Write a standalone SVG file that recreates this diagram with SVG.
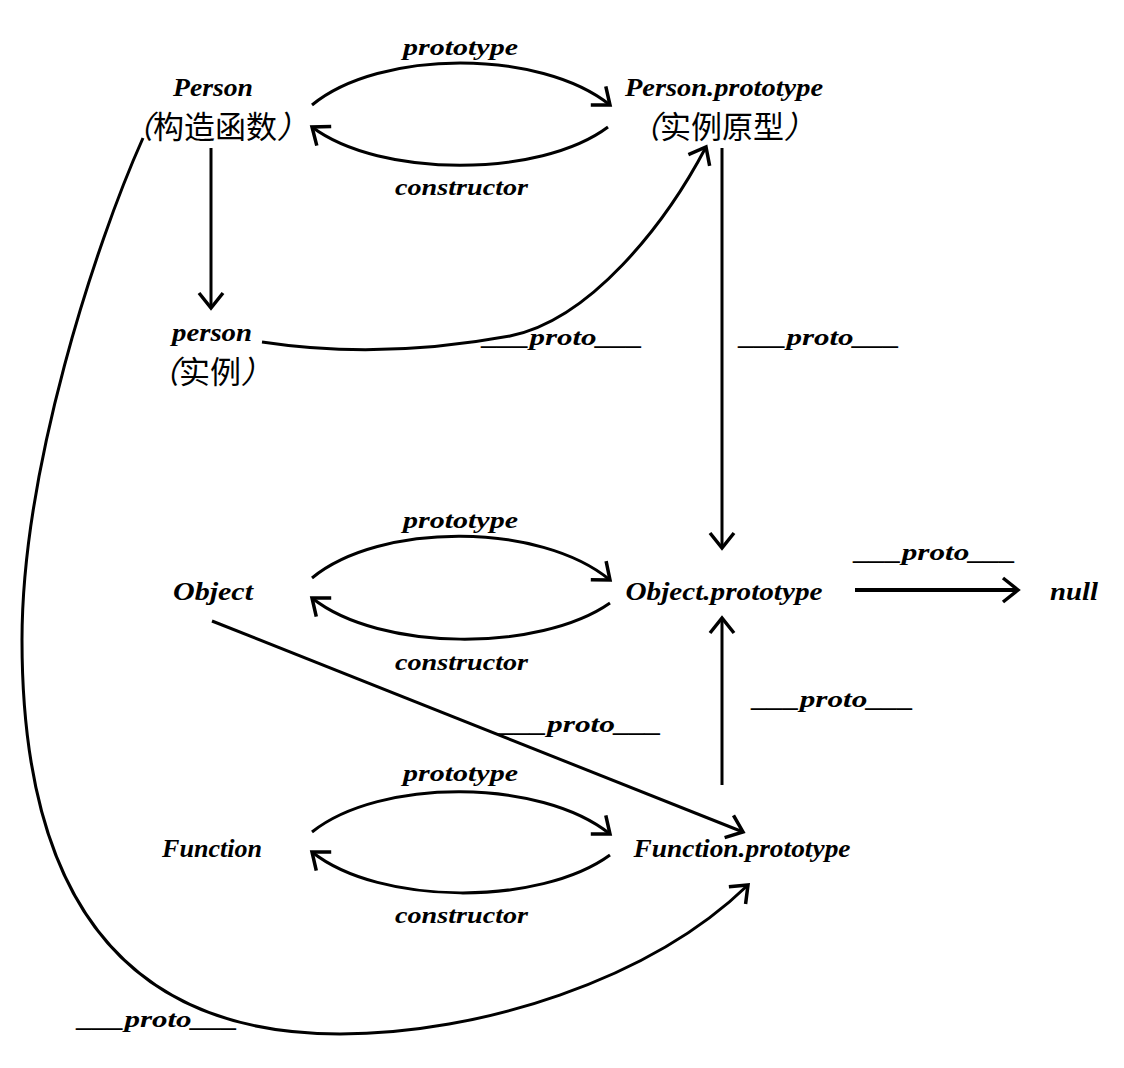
<svg xmlns="http://www.w3.org/2000/svg" width="1124" height="1068" viewBox="0 0 1124 1068">
<style>
.t{font-family:"Liberation Serif","DejaVu Serif",serif;font-style:italic;font-weight:bold;font-size:26px;fill:#000;text-anchor:middle}
.l{font-family:"Liberation Serif","DejaVu Serif",serif;font-style:italic;font-weight:bold;font-size:24px;fill:#000}
.c{font-family:"Noto Sans CJK SC",sans-serif;font-size:31px;fill:#000;text-anchor:middle}
.p{font-style:italic}
.e{fill:none;stroke:#000;stroke-width:3}
</style>
<defs>
<marker id="ah" markerUnits="userSpaceOnUse" markerWidth="40" markerHeight="40" viewBox="-20 -20 40 40" refX="0" refY="0" orient="auto">
<path d="M-15,-12 L0,0 L-15,12" fill="none" stroke="#000" stroke-width="3.5" stroke-linejoin="miter"/>
</marker>
</defs>
<rect width="1124" height="1068" fill="#fff"/>
<g id="connectors">
<path class="e" d="M312,105 C380,49 540,49 610,105" marker-end="url(#ah)"/>
<path class="e" d="M608,127 C540,178 380,178 312,127" marker-end="url(#ah)"/>
<path class="e" d="M211,148 L211,308" marker-end="url(#ah)"/>
<path class="e" d="M262,342 Q380,360 510,336 C590,320 665,225 706,147" marker-end="url(#ah)"/>
<path class="e" d="M722,148 L722,548" marker-end="url(#ah)"/>
<path class="e" d="M312,578 C380,522 540,522 610,580" marker-end="url(#ah)"/>
<path class="e" d="M610,603 C540,652 380,652 312,598" marker-end="url(#ah)"/>
<path class="e" style="stroke-width:4" d="M855,590 L1018,590" marker-end="url(#ah)"/>
<path class="e" d="M212,621 L743,832" marker-end="url(#ah)"/>
<path class="e" d="M722,785 L722,618" marker-end="url(#ah)"/>
<path class="e" d="M312,832 C380,778 540,778 610,834" marker-end="url(#ah)"/>
<path class="e" d="M610,855 C540,906 380,906 312,852" marker-end="url(#ah)"/>
<path class="e" d="M143,138 C95,245 22,470 22,640 C22,970 190,1034 340,1034 C480,1034 650,980 748,885" marker-end="url(#ah)"/>
</g>
<g id="labels">
<text class="l" x="403" y="55" textLength="115" lengthAdjust="spacingAndGlyphs">prototype</text>
<text class="l" x="395" y="195" textLength="133" lengthAdjust="spacingAndGlyphs">constructor</text>
<text class="l" x="483" y="345" textLength="160" lengthAdjust="spacingAndGlyphs">___proto___</text>
<text class="l" x="740" y="345" textLength="160" lengthAdjust="spacingAndGlyphs">___proto___</text>
<text class="l" x="403" y="528" textLength="115" lengthAdjust="spacingAndGlyphs">prototype</text>
<text class="l" x="855" y="560" textLength="161" lengthAdjust="spacingAndGlyphs">___proto___</text>
<text class="l" x="395" y="670" textLength="133" lengthAdjust="spacingAndGlyphs">constructor</text>
<text class="l" x="500" y="732" textLength="162" lengthAdjust="spacingAndGlyphs">___proto___</text>
<text class="l" x="753" y="707" textLength="161" lengthAdjust="spacingAndGlyphs">___proto___</text>
<text class="l" x="403" y="781" textLength="115" lengthAdjust="spacingAndGlyphs">prototype</text>
<text class="l" x="395" y="923" textLength="133" lengthAdjust="spacingAndGlyphs">constructor</text>
<text class="l" x="78" y="1027" textLength="160" lengthAdjust="spacingAndGlyphs">___proto___</text>
</g>
<g id="node-Person">
<text class="t" x="213" y="96" textLength="80" lengthAdjust="spacingAndGlyphs">Person</text>
<text class="c" x="215" y="138"><tspan class="p">（</tspan>构造函数<tspan class="p">）</tspan></text>
</g>
<g id="node-Person-prototype">
<text class="t" x="724" y="96" textLength="198" lengthAdjust="spacingAndGlyphs">Person.prototype</text>
<text class="c" x="722" y="138"><tspan class="p">（</tspan>实例原型<tspan class="p">）</tspan></text>
</g>
<g id="node-person">
<text class="t" x="212" y="341" textLength="80" lengthAdjust="spacingAndGlyphs">person</text>
<text class="c" x="210" y="383"><tspan class="p">（</tspan>实例<tspan class="p">）</tspan></text>
</g>
<g id="node-Object">
<text class="t" x="213" y="600" textLength="80" lengthAdjust="spacingAndGlyphs">Object</text>
</g>
<g id="node-Object-prototype">
<text class="t" x="724" y="600" textLength="197" lengthAdjust="spacingAndGlyphs">Object.prototype</text>
</g>
<g id="node-null">
<text class="t" x="1074" y="600" textLength="48" lengthAdjust="spacingAndGlyphs">null</text>
</g>
<g id="node-Function">
<text class="t" x="212" y="857" textLength="100" lengthAdjust="spacingAndGlyphs">Function</text>
</g>
<g id="node-Function-prototype">
<text class="t" x="742" y="857" textLength="217" lengthAdjust="spacingAndGlyphs">Function.prototype</text>
</g>
</svg>
